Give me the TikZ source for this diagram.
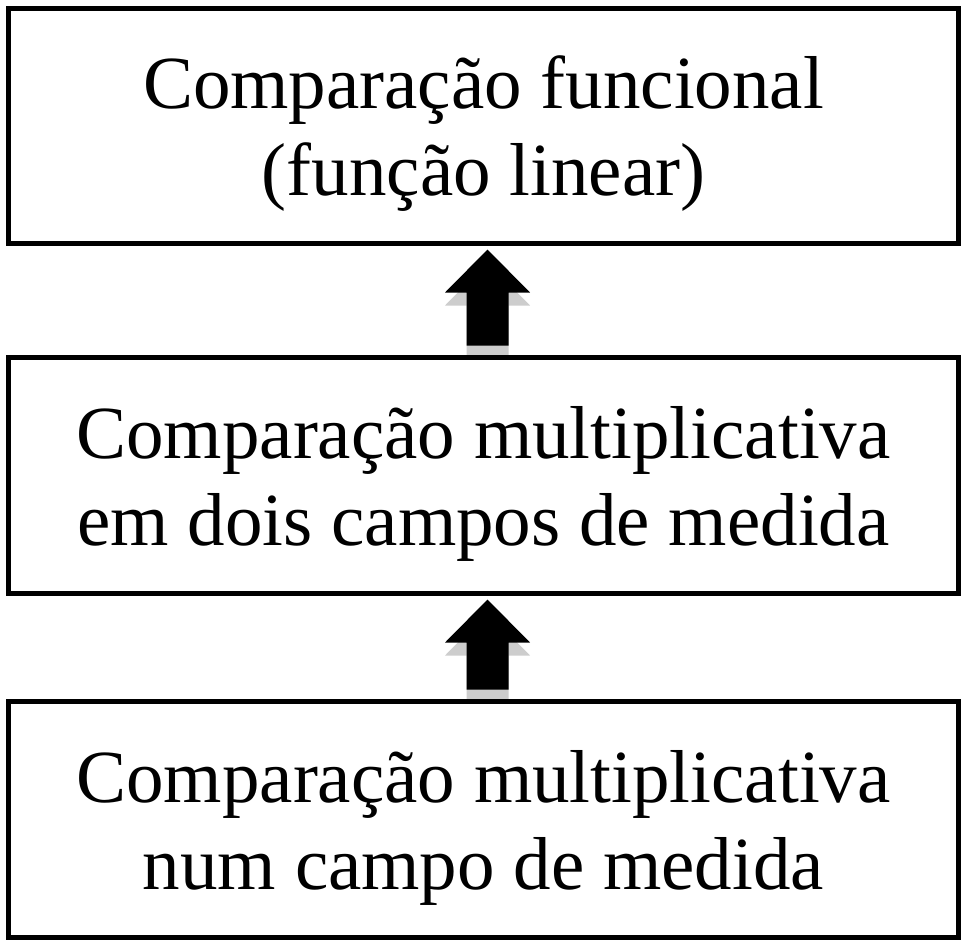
\documentclass[tikz,border=0pt]{standalone}
\usepackage{fontspec}
\setmainfont{Liberation Serif}
\usetikzlibrary{calc,backgrounds}
\definecolor{shadowgray}{RGB}{205,205,205}
\newcommand\upblock[3]{%
  \fill[#3] ($(#1)+(-21,0)$) -- ($(#2)+(-21,43)$) -- ($(#2)+(-42.5,43)$) -- (#2)
    -- ($(#2)+(42.5,43)$) -- ($(#2)+(21,43)$) -- ($(#1)+(21,0)$) -- cycle;}
\tikzset{
  box/.style={draw=black, line width=5pt, inner sep=0pt, minimum width=950pt,
    text width=900pt, align=flush center, text height=50pt, text depth=85pt,
    font=\fontsize{75}{87}\selectfont},
}
\begin{document}
\begin{tikzpicture}[x=1pt,y=-1pt]
\useasboundingbox (0,0) rectangle (967,946);
\node[box, minimum height=235pt] (top) at (483.5,126) {Comparação funcional\\(função linear)};
\node[box, minimum height=236pt] (mid) at (483.5,475.5) {Comparação multiplicativa\\em dois campos de medida};
\node[box, minimum height=236pt] (bot) at (483.5,819.5) {Comparação multiplicativa\\num campo de medida};
\coordinate (a1b) at ([xshift=4pt,yshift=9.5pt]mid.north);
\coordinate (a1t) at ([xshift=4pt,yshift=-3.5pt]top.south);
\coordinate (a2b) at ([xshift=4pt,yshift=9.5pt]bot.north);
\coordinate (a2t) at ([xshift=4pt,yshift=-3.5pt]mid.south);
\begin{scope}[on background layer]
\coordinate (s1b) at ($(a1b)+(0,13)$);
\coordinate (s1t) at ($(a1t)+(0,13)$);
\coordinate (s2b) at ($(a2b)+(0,13)$);
\coordinate (s2t) at ($(a2t)+(0,13)$);
\upblock{s1b}{s1t}{shadowgray}
\upblock{s2b}{s2t}{shadowgray}
\end{scope}
\upblock{a1b}{a1t}{black}
\upblock{a2b}{a2t}{black}
\end{tikzpicture}
\end{document}
